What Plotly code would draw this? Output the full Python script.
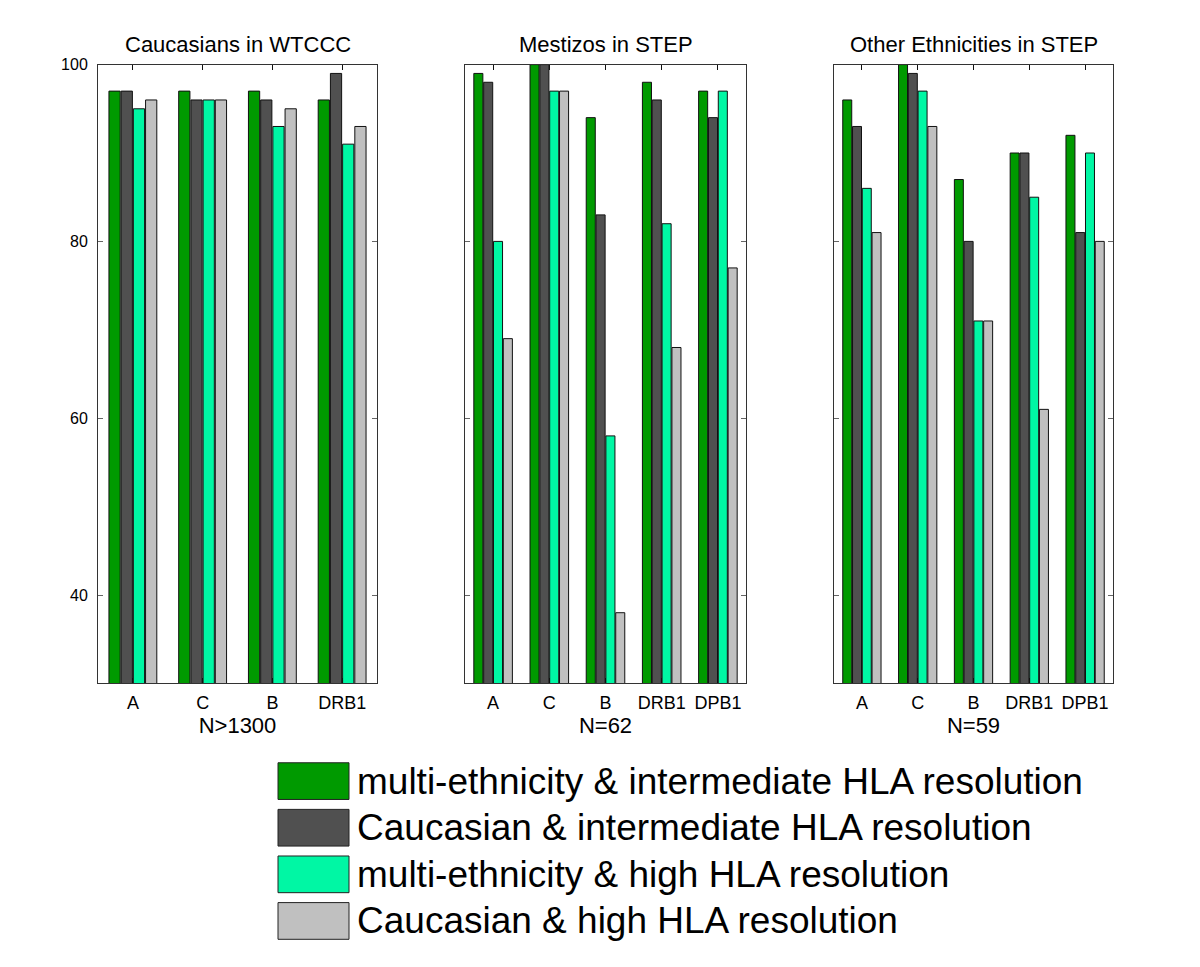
import plotly.graph_objects as go

series_names = [
    "multi-ethnicity & intermediate HLA resolution",
    "Caucasian & intermediate HLA resolution",
    "multi-ethnicity & high HLA resolution",
    "Caucasian & high HLA resolution",
]
series_colors = ["#009a00", "#505050", "#00f7a4", "#c0c0c0"]

panel_titles = ["Caucasians in WTCCC", "Mestizos in STEP", "Other Ethnicities in STEP"]
panel_xlabels = ["N>1300", "N=62", "N=59"]

loci_wtccc = ["A", "C", "B", "DRB1"]
loci_step = ["A", "C", "B", "DRB1", "DPB1"]

# values per series, per panel
wtccc_multi_inter = [97, 97, 97, 96]
wtccc_cauc_inter = [97, 96, 96, 99]
wtccc_multi_high = [95, 96, 93, 91]
wtccc_cauc_high = [96, 96, 95, 93]

mestizo_multi_inter = [99, 100, 94, 98, 97]
mestizo_cauc_inter = [98, 100, 83, 96, 94]
mestizo_multi_high = [80, 97, 58, 82, 97]
mestizo_cauc_high = [69, 97, 38, 68, 77]

other_multi_inter = [96, 100, 87, 90, 92]
other_cauc_inter = [93, 99, 80, 90, 81]
other_multi_high = [86, 97, 71, 85, 90]
other_cauc_high = [81, 93, 71, 61, 80]

y_ticks = [40, 60, 80, 100]

panels = [
    (loci_wtccc, [wtccc_multi_inter, wtccc_cauc_inter, wtccc_multi_high, wtccc_cauc_high]),
    (loci_step, [mestizo_multi_inter, mestizo_cauc_inter, mestizo_multi_high, mestizo_cauc_high]),
    (loci_step, [other_multi_inter, other_cauc_inter, other_multi_high, other_cauc_high]),
]

W, H = 1200, 967
OX, OY = 8, 10  # page offset compensation


def px(x):
    return (x - OX) / W


def py(y):
    return 1 - (y - OY) / H


x_doms = [(px(98), px(377)), (px(465), px(746)), (px(834), px(1113))]
y_dom = (py(683), py(59))

fig = go.Figure()
for p, (cats, vals) in enumerate(panels):
    xa = "x" if p == 0 else f"x{p+1}"
    ya = "y" if p == 0 else f"y{p+1}"
    for s, v in enumerate(vals):
        fig.add_trace(go.Bar(
            x=cats, y=v, name=series_names[s], xaxis=xa, yaxis=ya,
            marker=dict(color=series_colors[s], line=dict(color="#111111", width=1)),
            showlegend=False, offsetgroup=str(s),
        ))

font_family = "Liberation Sans, Arial, sans-serif"
layout = dict(
    width=W, height=H,
    margin=dict(l=0, r=0, t=0, b=0),
    paper_bgcolor="white", plot_bgcolor="white",
    barmode="group", bargap=0.3, bargroupgap=0.08,
    font=dict(family=font_family, color="black"),
)
for p in range(3):
    xk = "xaxis" if p == 0 else f"xaxis{p+1}"
    yk = "yaxis" if p == 0 else f"yaxis{p+1}"
    layout[xk] = dict(
        domain=list(x_doms[p]), anchor="y" if p == 0 else f"y{p+1}",
        showline=True, linecolor="#333333", linewidth=1, mirror="ticks",
        ticks="inside", ticklen=5, tickcolor="#111111",
        tickfont=dict(size=18), ticklabelstandoff=3,
        title=dict(text=panel_xlabels[p], font=dict(size=22), standoff=0),
        showgrid=False, fixedrange=True,
    )
    layout[yk] = dict(
        domain=list(y_dom), anchor="x" if p == 0 else f"x{p+1}",
        range=[30, 100], tickvals=y_ticks,
        showticklabels=(p == 0),
        showline=True, linecolor="#333333", linewidth=1, mirror="ticks",
        ticks="inside", ticklen=5, tickcolor="#666666",
        tickfont=dict(size=16), ticklabelstandoff=6,
        showgrid=False, zeroline=False, fixedrange=True,
    )
fig.update_layout(**layout)

# panel titles
for p in range(3):
    fig.add_annotation(
        text=panel_titles[p], xref="paper", yref="paper",
        x=(x_doms[p][0] + x_doms[p][1]) / 2, y=py(39),
        xanchor="center", yanchor="middle", showarrow=False,
        font=dict(size=22, family=font_family),
    )

# custom legend
box_tops = [763, 810, 857, 904]
box_h = 37
for s in range(4):
    y0 = py(box_tops[s] + box_h)
    y1 = py(box_tops[s])
    fig.add_shape(type="rect", xref="paper", yref="paper",
                  x0=px(278), x1=px(349), y0=y0, y1=y1,
                  fillcolor=series_colors[s], line=dict(color="#222222", width=1))
    fig.add_annotation(text=series_names[s], xref="paper", yref="paper",
                       x=px(355), y=(y0 + y1) / 2, xanchor="left", yanchor="middle",
                       showarrow=False, font=dict(size=37, family=font_family))

fig.write_html("out.html")
